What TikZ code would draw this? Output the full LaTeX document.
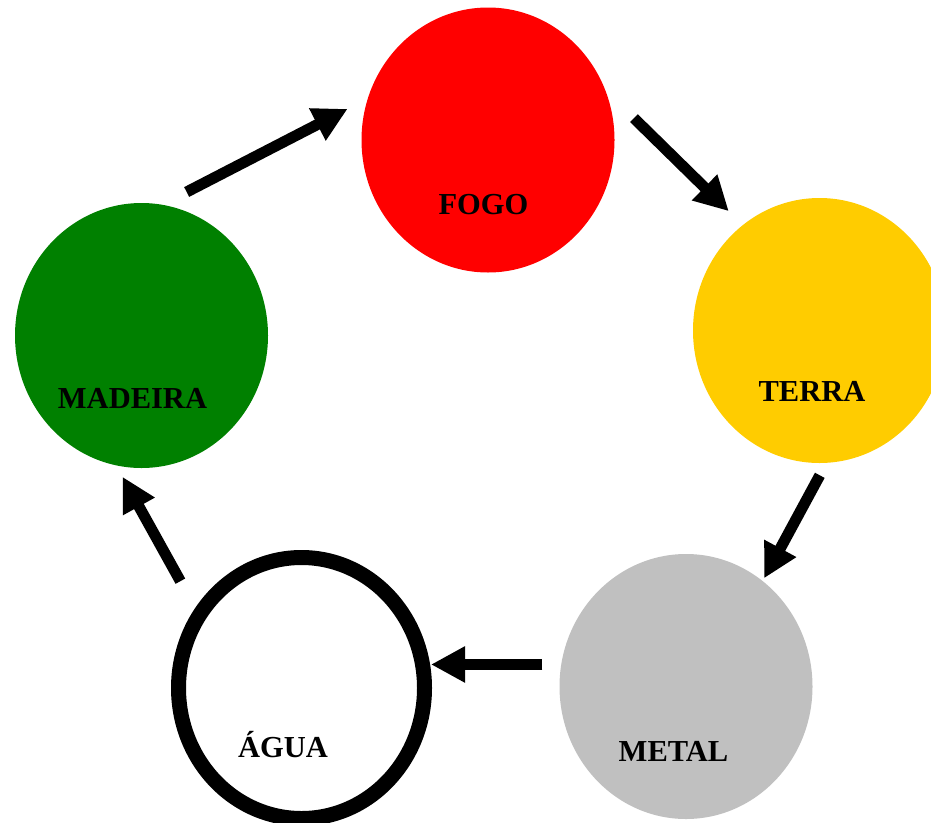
\documentclass[tikz,border=0pt]{standalone}
\usepackage{fontspec}
\setmainfont{Liberation Serif}
\usepackage{tikz}
\usetikzlibrary{arrows.meta,%
                shapes.geometric}
\definecolor{FireRed}{HTML}{FF0000}
\definecolor{EarthYellow}{HTML}{FFCC00}
\definecolor{MetalGray}{HTML}{C0C0C0}
\definecolor{WoodGreen}{HTML}{008000}

\begin{document}
\begin{tikzpicture}[x=1pt, y=-1pt]
  \useasboundingbox (0,0) rectangle (931,822);
  \tikzset{ElementStyle/.style = {shape=ellipse, inner sep=0pt, minimum width=253pt, minimum height=265pt}}
  \tikzset{WaterStyle/.style = {ElementStyle, draw=black, line width=15pt, fill=white, minimum width=246pt, minimum height=261pt}}
  \tikzset{NameStyle/.style = {anchor=base, inner sep=0pt, text=black, font=\fontsize{30.5}{31}\selectfont\bfseries}}
  \tikzset{EdgeStyle/.style = {line width=11pt, -{Triangle[length=34pt, width=34pt]}}}

  \node(1)[ElementStyle, fill=FireRed] at (488,140) {};
  \node(2)[ElementStyle, fill=EarthYellow] at (819.5,330.5) {};
  \node(3)[ElementStyle, fill=MetalGray] at (686,686.5) {};
  \node(4)[WaterStyle] at (301.5,688) {};
  \node(5)[ElementStyle, fill=WoodGreen] at (141.5,335.5) {};

  \node(6)[NameStyle] at (483.5,214) {FOGO};
  \node(7)[NameStyle] at (812,401) {TERRA};
  \node(8)[NameStyle] at (673.5,761) {METAL};
  \node(9)[NameStyle] at (283,757) {ÁGUA};
  \node(10)[NameStyle] at (132.5,408) {MADEIRA};

     \draw[EdgeStyle, shorten <=27.5pt, shorten >=22.6pt](5.81.7) -- (1.161);
     \draw[EdgeStyle, shorten <=40pt, shorten >=19.6pt](1.23.3) -- (2.126.5);
     \draw[EdgeStyle, shorten <=14pt, shorten >=3pt](2.273.2) -- (3.54.5);
     \draw[EdgeStyle, shorten <=18.6pt, shorten >=-1pt](3.170.7) -- (4.east |- 3.170.7);
     \draw[EdgeStyle, shorten <=30.6pt, shorten >=12.8pt](4.143.6) -- (5.259.8);

\end{tikzpicture}
\end{document}
